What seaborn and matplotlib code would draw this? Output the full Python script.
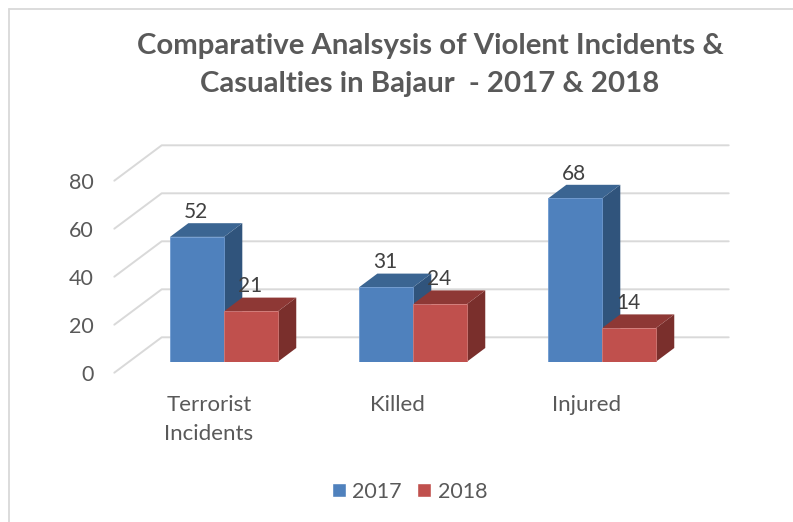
import pandas as pd
import matplotlib
matplotlib.use("Agg")
import matplotlib.pyplot as plt
import seaborn as sns
from matplotlib.lines import Line2D
from matplotlib.patches import Polygon
from matplotlib.transforms import ScaledTranslation

categories = ["Terrorist\nIncidents", "Killed", "Injured"]
values_2017 = [52, 31, 68]
values_2018 = [21, 24, 14]
y_ticks = [0, 20, 40, 60, 80]

W, H = 793, 522
BLUE, BLUE_TOP, BLUE_SIDE = "#4F81BD", "#3B6592", "#30547C"
RED, RED_TOP, RED_SIDE = "#C0504D", "#8E3835", "#7A2F2C"
GRID = "#D9D9D9"
TEXT = "#595959"

# pixel offsets of the fake 3d look
BAR_DX, BAR_DY = 18.3, 13.7
BACK_DX, BACK_DY = 32.2, 24.4
FRONT_DX, FRONT_DY = -15.2, -11


df = pd.DataFrame({"Category": categories, "2017": values_2017, "2018": values_2018})
df = df.melt(id_vars="Category", var_name="Year", value_name="Value")

sns.set_theme(style="white")
plt.rcParams["font.family"] = ["Lato", "DejaVu Sans"]

fig = plt.figure(figsize=(W / 100, H / 100), dpi=100)
ax = fig.add_axes([129.5 / W, (H - 361.7) / H, 567 / W, 192 / H])

sns.barplot(
    data=df, x="Category", y="Value", hue="Year",
    palette=[BLUE, RED], width=0.571, gap=0, saturation=1, ax=ax
)
ax.set_xlim(-0.5, 2.5)
ax.set_ylim(0, 80)
ax.set_yticks(y_ticks)
ax.set_xlabel("")
ax.set_ylabel("")
sns.despine(ax=ax, left=True, bottom=True)

# data units per pixel
ux = 3 / 567
uy = 80 / 192

for tick in y_ticks:
    ax.add_line(Line2D(
        [-0.5 + FRONT_DX * ux, -0.5 + BACK_DX * ux, 2.5 + BACK_DX * ux],
        [tick + FRONT_DY * uy, tick + BACK_DY * uy, tick + BACK_DY * uy],
        color=GRID, lw=1.4, clip_on=False, zorder=1
    ))

styles = [(BLUE_TOP, BLUE_SIDE, "#6F9AD0"), (RED_TOP, RED_SIDE, "#D27A77")]
for n, (container, style) in enumerate(zip(ax.containers[:2], styles)):
    top_col, side_col, edge_col = style
    for bar in container:
        x0, x1 = bar.get_x(), bar.get_x() + bar.get_width()
        h = bar.get_height()
        dx, dy = BAR_DX * ux, BAR_DY * uy
        ax.add_patch(Polygon(
            [(x1, 0), (x1 + dx, dy), (x1 + dx, h + dy), (x1, h)],
            color=side_col, lw=0, clip_on=False, zorder=3 + n * 0.1
        ))
        ax.add_patch(Polygon(
            [(x0, h), (x0 + dx, h + dy), (x1 + dx, h + dy), (x1, h)],
            color=top_col, lw=0, clip_on=False, zorder=3 + n * 0.1
        ))
        bar.set_zorder(3.5)
        bar.set_edgecolor(edge_col)
        bar.set_linewidth(0.6)
        ax.annotate(
            f"{h:.0f}", xy=(bar.get_x() + bar.get_width() / 2, h),
            xytext=(-1, 25), textcoords="offset pixels",
            ha="center", va="center", fontsize=15, color="#404040", zorder=6
        )

ax.tick_params(axis="y", length=0, pad=26, labelsize=15.5, labelcolor=TEXT)
ax.tick_params(axis="x", length=0, pad=24, labelsize=16, labelcolor=TEXT)
for label in ax.get_yticklabels():
    label.set_transform(label.get_transform() + ScaledTranslation(0, FRONT_DY / 100, fig.dpi_scale_trans))
for label in ax.get_xticklabels():
    label.set_transform(label.get_transform() + ScaledTranslation(FRONT_DX / 100, 0, fig.dpi_scale_trans))
    label.set_linespacing(1.55)

fig.text(
    430 / W, 1 - 65 / H,
    "Comparative Analsysis of Violent Incidents &\nCasualties in Bajaur  - 2017 & 2018",
    ha="center", va="center", fontsize=21.2, fontweight="bold", color=TEXT, linespacing=1.55
)

sns.move_legend(
    ax, "center", bbox_to_anchor=(409.5 / W, 1 - 491.5 / H),
    bbox_transform=fig.transFigure, ncol=2, frameon=False, title=None,
    fontsize=15.5, handlelength=0.65, handleheight=0.65,
    handletextpad=0.3, columnspacing=0.7, labelcolor=TEXT
)

# chart frame, only top and left show
fig.add_artist(Line2D([8.5 / W, 8.5 / W], [0, 1 - 8.5 / H], color=GRID, lw=1.3))
fig.add_artist(Line2D([8.5 / W, 1], [1 - 8.5 / H, 1 - 8.5 / H], color=GRID, lw=1.3))

fig.savefig("out.png", dpi=100)
